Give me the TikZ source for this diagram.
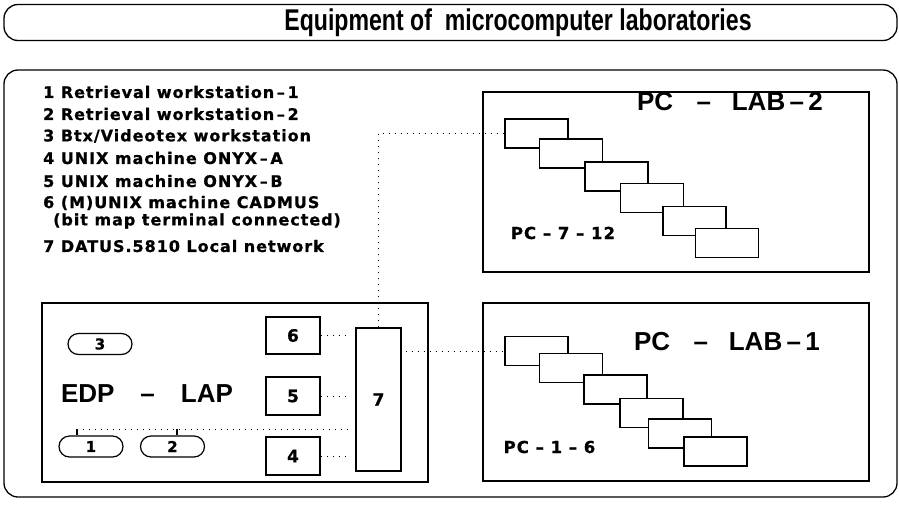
\documentclass[tikz,border=0pt]{standalone}
\usepackage{fontspec}
\setmainfont{Liberation Sans}
\newfontfamily\legendfont[LetterSpace=6, BoldFeatures={FakeBold=0.8}]{DejaVu Sans}
\newfontfamily\titlefont[FakeStretch=0.77]{Liberation Sans}
\usepackage{tikz}
\usetikzlibrary{positioning, calc}

\begin{document}
\begin{tikzpicture}[x=1pt, y=-1pt,
    frame/.style={draw, line width=1.3pt, rounded corners=14pt, minimum width=893pt},
    labbox/.style={draw, line width=1.3pt, minimum width=386pt},
    pcbox/.style={draw, line width=1.2pt, fill=white, minimum width=63pt, minimum height=29pt},
    unitbox/.style={draw, line width=1.2pt, minimum width=54pt, minimum height=38pt, font=\legendfont\bfseries\fontsize{17}{17}\selectfont},
    wsbox/.style={draw, line width=1.2pt, rounded corners=10.5pt, minimum width=64pt, minimum height=21pt, inner sep=0pt, font=\legendfont\bfseries\fontsize{15}{15}\selectfont},
    legend/.style={anchor=west, inner sep=0pt, font=\legendfont\bfseries\fontsize{16}{16}\selectfont},
    biglabel/.style={font=\bfseries\fontsize{26}{26}\selectfont},
    link/.style={line width=1pt, dash pattern=on 1pt off 5pt}]
\useasboundingbox (0,0) rectangle (899,504);

% title and outer frame
\node[frame, minimum height=36pt] (titlebox) at (450.5,22.5) {};
\node[font=\titlefont\bfseries\fontsize{30}{30}\selectfont] (title) at (518,23) {Equipment of\ \ microcomputer laboratories};
\node[frame, minimum height=427pt] (mainbox) at (450.5,283.5) {};

% legend
\node[legend] (leg1) at (43,92) {1 Retrieval workstation\,–\,1};
\node[legend] (leg2) at (43,114) {2 Retrieval workstation\,–\,2};
\node[legend] (leg3) at (43,136) {3 Btx/Videotex workstation};
\node[legend] (leg4) at (43,158) {4 UNIX machine ONYX\,–\,A};
\node[legend] (leg5) at (43,181) {5 UNIX machine ONYX\,–\,B};
\node[legend] (leg6) at (43,203) {6 (M)UNIX machine CADMUS};
\node[legend] (leg6b) at (53,221) {(bit map terminal connected)};
\node[legend] (leg7) at (43,246) {7 DATUS.5810 Local network};

% EDP lab
\node[labbox, minimum height=179pt] (edp) at (235,392.5) {};
\node[biglabel] (edplabel) at (147,394) {EDP\hspace{1em}–\hspace{1em}LAP};
\node[wsbox] (ws3) at (100,344) {3};
\node[wsbox] (ws1) at (91,446.5) {1};
\node[wsbox] (ws2) at (172.5,446.5) {2};
\node[unitbox, minimum height=37pt] (b6) at (293,335.5) {6};
\node[unitbox] (b5) at (293,396) {5};
\node[unitbox] (b4) at (293,456) {4};
\node[unitbox, minimum width=45pt, minimum height=143pt] (b7) at (378.5,399.5) {7};

% PC labs
\node[labbox, minimum height=180pt] (lab2) at (676,182) {};
\node[biglabel] (lab2label) at (730,102) {PC\hspace{0.9em}–\hspace{0.8em}LAB\,–\,2};
\node[labbox, minimum height=178pt] (lab1) at (676,392) {};
\node[biglabel] (lab1label) at (727,342) {PC\hspace{0.9em}–\hspace{0.8em}LAB\,–\,1};

\foreach \i/\x/\y in {7/536.5/133.5, 8/571/153.5, 9/616.5/176.5, 10/652/198, 11/694.5/221, 12/727/243}
  \node[pcbox] (pc\i) at (\x,\y) {};
\foreach \i/\x/\y in {1/536.5/351, 2/571/368, 3/615.5/389.5, 4/651.5/413, 5/680/433.5, 6/715.5/451.5}
  \node[pcbox] (pc\i) at (\x,\y) {};
\node[legend, anchor=center, font=\legendfont\bfseries\fontsize{16.5}{16.5}\selectfont] (pc2text) at (563,233) {PC – 7 – 12};
\node[legend, anchor=center, font=\legendfont\bfseries\fontsize{16.5}{16.5}\selectfont] (pc1text) at (549.5,447) {PC – 1 – 6};

% network links
\draw[link, shorten >=7pt] (b6.east) -- (b6.east -| b7.west);
\draw[link, shorten >=7pt] (b5.east) -- (b5.east -| b7.west);
\draw[link, shorten >=7pt] (b4.east) -- (b4.east -| b7.west);
\coordinate (tap1) at (77,429);
\coordinate (tap2) at (177,429);
\draw[line width=1.1pt] (tap1) -- (tap1 |- ws1.north);
\draw[line width=1.1pt] (tap2) -- (tap2 |- ws2.north);
\draw[link, shorten >=6pt] (tap1) -- (tap1 -| b7.west);
\draw[link] (b7.north) |- (pc7.west);
\draw[link, shorten <=4pt] (b7.east |- pc1.west) -- (pc1.west);
\end{tikzpicture}
\end{document}
